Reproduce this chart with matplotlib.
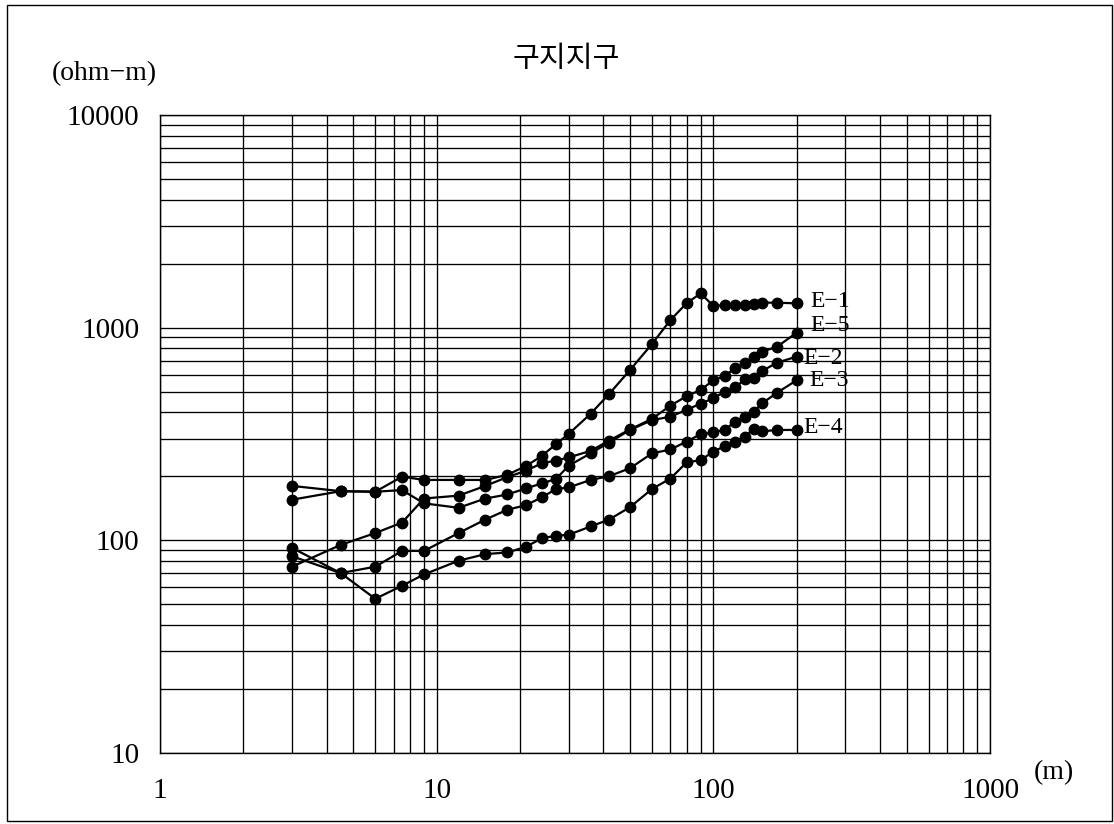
import matplotlib
matplotlib.use("Agg")
import matplotlib.pyplot as plt
from matplotlib.ticker import LogLocator, NullFormatter
from matplotlib.patches import Rectangle

# electrode spacing AB/2 (m)
spacing = [3, 4.5, 6, 7.5, 9, 12, 15, 18, 21, 24, 27, 30, 36, 42, 50,
           60, 70, 80, 90, 100, 110, 120, 130, 140, 150, 170, 200]

# apparent resistivity (ohm-m)
e1 = [180, 170, 169, 199, 192, 192, 192, 203, 223, 249, 283, 316, 393, 487, 632,
      837, 1086, 1301, 1449, 1264, 1277, 1277, 1277, 1285, 1310, 1310, 1300]
e2 = [155, 170, 169, 172, 149, 142, 157, 164, 175, 185, 194, 224, 256, 288, 330,
      367, 381, 410, 439, 465, 500, 524, 570, 581, 625, 684, 730]
e3 = [84, 70, 75, 89, 89, 108, 125, 139, 146, 159, 174, 177, 192, 200, 218,
      256, 267, 291, 315, 321, 331, 361, 381, 402, 440, 494, 565]
e4 = [92, 70, 53, 61, 69, 80, 86, 87.5, 93, 102, 105, 106, 116, 125, 143,
      174, 195, 232, 238, 261, 277, 291, 307, 335, 325, 330, 330]
e5 = [75, 95, 108, 121, 157, 162, 180, 198, 212, 230, 237, 245, 263, 294, 332,
      372, 430, 475, 509, 565, 595, 643, 679, 725, 770, 813, 946]

series = [("E\u22121", e1), ("E\u22125", e5), ("E\u22122", e2), ("E\u22123", e3), ("E\u22124", e4)]
label_dx = [10, 10, 5, 9, 5]
label_dy = [1, 5, -1, 0, 2]

serif = ["Liberation Serif", "DejaVu Serif"]

fig = plt.figure(figsize=(11.14, 8.24), dpi=100)
ax = fig.add_axes([0.1436, 0.0865, 0.7451, 0.7739])

for (name, vals), dx, dy in zip(series, label_dx, label_dy):
    ax.plot(spacing, vals, color="black", lw=1.6, marker="o", markersize=7.5)
    ax.annotate(name, xy=(spacing[-1], vals[-1]), xytext=(dx, dy),
                textcoords="offset points", va="center", ha="left",
                fontsize=17, family=serif)

ax.set_xscale("log")
ax.set_yscale("log")
ax.set_xlim(1, 1000)
ax.set_ylim(10, 10000)

ax.set_xticks([1, 10, 100, 1000])
ax.set_xticklabels(["1", "10", "100", "1000"])
ax.set_yticks([10, 100, 1000, 10000])
ax.set_yticklabels(["10", "100", "1000", "10000"])
ax.xaxis.set_minor_locator(LogLocator(base=10, subs=range(2, 10)))
ax.yaxis.set_minor_locator(LogLocator(base=10, subs=range(2, 10)))
ax.xaxis.set_minor_formatter(NullFormatter())
ax.yaxis.set_minor_formatter(NullFormatter())
ax.tick_params(which="both", length=0)
ax.tick_params(axis="x", pad=18)
ax.tick_params(axis="y", pad=15)
for lab in ax.get_xticklabels() + ax.get_yticklabels():
    lab.set_family(serif)
    lab.set_fontsize(21)

ax.grid(True, which="both", color="black", lw=0.95)
ax.set_axisbelow(True)
for sp in ax.spines.values():
    sp.set_color("black")
    sp.set_linewidth(1.0)

fig.text(0.508, 0.928, "구지지구", ha="center", va="center", fontsize=21,
         family=["Noto Sans CJK KR", "DejaVu Sans"])
fig.text(0.0934, 0.911, "(ohm\u2212m)", ha="center", va="center", fontsize=20, family=serif)
fig.text(0.946, 0.062, "(m)", ha="center", va="center", fontsize=20, family=serif)

fig.patches.append(Rectangle((0.006, 0.004), 0.992, 0.99, transform=fig.transFigure,
                             fill=False, edgecolor="black", lw=1.0))

fig.savefig("out.png", dpi=100)
